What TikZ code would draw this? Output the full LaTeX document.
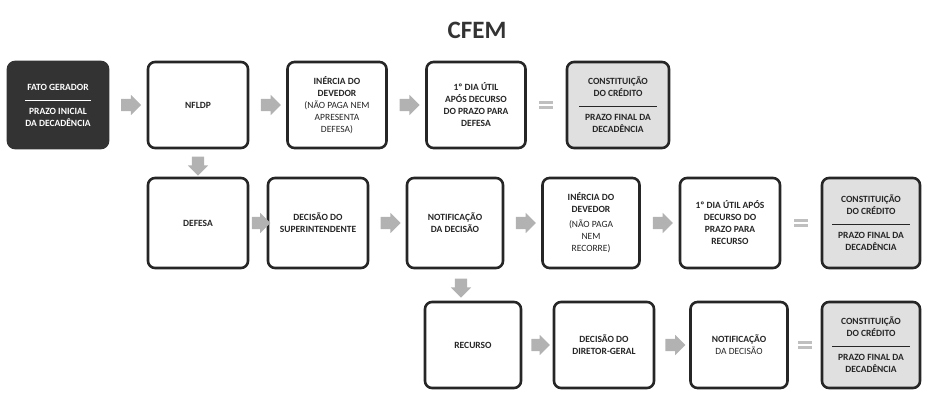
\documentclass[tikz,border=0pt]{standalone}
\usepackage{fontspec}
\setmainfont{Carlito}
\usetikzlibrary{shapes.arrows}
\begin{document}
\begin{tikzpicture}[x=1pt,y=-1pt,
 box/.style={draw=black!85,line width=2.6pt,rounded corners=7pt,fill=white,align=center,font=\fontsize{9.5}{12}\selectfont\bfseries,text=black!85,inner sep=1pt},
 dark/.style={box,fill=black!80,draw=black!80,text=white},
 grey/.style={box,fill=black!12},
 arr/.style={single arrow,fill=black!30,draw=none,minimum height=20pt,minimum width=20pt,single arrow head extend=4pt,inner sep=6pt},
 eq/.style={fill=black!25,draw=none,minimum width=14pt,minimum height=3pt,inner sep=0pt}]
\useasboundingbox (0,0) rectangle (932,404);
\node[font=\fontsize{25}{27}\selectfont\bfseries,text=black!80] (t) at (477,30) {CFEM};
\newcommand\bx[6]{\node[#1,minimum width=#4pt,minimum height=#5pt] (#2) at (#3) {#6};}
% row 1
\bx{dark}{a1}{58,105}{100}{86}{FATO GERADOR\\[-2pt]\rule{66pt}{0.5pt}\\[2pt]PRAZO INICIAL\\DA DECADÊNCIA}
\bx{box}{b1}{198,105}{100}{86}{NFLDP}
\bx{box}{c1}{337,105}{99}{86}{INÉRCIA DO\\DEVEDOR\\\mdseries (NÃO PAGA NEM\\\mdseries APRESENTA\\\mdseries DEFESA)}
\bx{box}{d1}{476,105}{99}{86}{1º DIA ÚTIL\\APÓS DECURSO\\DO PRAZO PARA\\DEFESA}
\bx{grey}{e1}{618,105}{102}{86}{CONSTITUIÇÃO\\DO CRÉDITO\\[-2pt]\rule{78pt}{0.5pt}\\[2pt]PRAZO FINAL DA\\DECADÊNCIA}
% row 2
\bx{box}{b2}{198,223}{100}{90}{DEFESA}
\bx{box}{c2}{318,223}{100}{90}{DECISÃO DO\\SUPERINTENDENTE}
\bx{box}{d2}{455,223}{96}{90}{NOTIFICAÇÃO\\DA DECISÃO}
\bx{box}{e2}{591,223}{97}{90}{INÉRCIA DO\\DEVEDOR\\[3pt]\mdseries (NÃO PAGA\\\mdseries NEM\\\mdseries RECORRE)}
\bx{box}{f2}{730,223}{100}{90}{1º DIA ÚTIL APÓS\\DECURSO DO\\PRAZO PARA\\RECURSO}
\bx{grey}{g2}{871,223}{98}{90}{CONSTITUIÇÃO\\DO CRÉDITO\\[-2pt]\rule{78pt}{0.5pt}\\[2pt]PRAZO FINAL DA\\DECADÊNCIA}
% row 3
\bx{box}{d3}{473,345}{96}{86}{RECURSO}
\bx{box}{e3}{604,345}{100}{86}{DECISÃO DO\\DIRETOR-GERAL}
\bx{box}{f3}{739,345}{97}{86}{NOTIFICAÇÃO\\\mdseries DA DECISÃO}
\bx{grey}{g3}{871,345}{98}{86}{CONSTITUIÇÃO\\DO CRÉDITO\\[-2pt]\rule{78pt}{0.5pt}\\[2pt]PRAZO FINAL DA\\DECADÊNCIA}
% arrows
\path (a1.east) -- (b1.west) node[arr,midway] (r1) {};
\path (b1.east) -- (c1.west) node[arr,midway] (r2) {};
\path (c1.east) -- (d1.west) node[arr,midway] (r3) {};
\path (b2.east) -- (c2.west) node[arr,midway,minimum height=16pt] (r4) {};
\path (c2.east) -- (d2.west) node[arr,midway] (r5) {};
\path (d2.east) -- (e2.west) node[arr,midway] (r6) {};
\path (e2.east) -- (f2.west) node[arr,midway] (r7) {};
\path (d3.east) -- (e3.west) node[arr,midway,minimum height=18pt] (r8) {};
\path (e3.east) -- (f3.west) node[arr,midway] (r9) {};
\path (b1.south) -- (b2.north) node[arr,midway,shape border rotate=270,minimum height=19pt] (v1) {};
\path (d2.south) -- (d3.north) node[arr,midway,shape border rotate=270,minimum height=19pt,xshift=-3pt] (v2) {};
% equals
\foreach \p/\q/\n in {d1/e1/q1,f2/g2/q2,f3/g3/q3}{
 \path (\p.east) -- (\q.west) coordinate[midway] (\n);
 \node[eq,yshift=-2.5pt] at (\n) {};
 \node[eq,yshift=2.5pt] at (\n) {};
}
\end{tikzpicture}
\end{document}
